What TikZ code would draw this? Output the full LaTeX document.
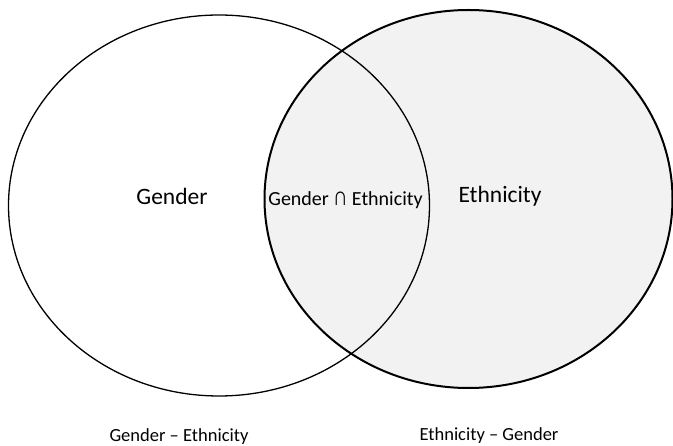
\documentclass[tikz,border=0pt]{standalone}
\usepackage{fontspec}
\usepackage{graphicx}
\setmainfont{Carlito}
\definecolor{lightfill}{HTML}{F2F2F2}
\tikzset{
  setline/.style={draw=black},
  lbl/.style={anchor=base, inner sep=0pt, text=black}
}
\newcommand{\capsym}{\scalebox{1}[1.3]{∩}}
\begin{document}
\begin{tikzpicture}[x=1pt,y=-1pt]
\useasboundingbox (0,0) rectangle (673,446);
% right set (Ethnicity), filled
\path[setline, fill=lightfill, line width=2pt] (468.5,199) ellipse [x radius=204, y radius=189];
% left set (Gender)
\path[setline, line width=1.3pt] (219,205.5) ellipse [x radius=210.5, y radius=190.5];
\node[lbl, font=\fontsize{23.5}{26}\selectfont] (g) at (172,205) {Gender};
\node[lbl, font=\fontsize{20}{22}\selectfont] (ge) at (345.5,206) {Gender \capsym{} Ethnicity};
\node[lbl, font=\fontsize{23.5}{26}\selectfont] (e) at (500,203) {Ethnicity};
\node[lbl, font=\fontsize{18.5}{20}\selectfont] (gme) at (179,442) {Gender – Ethnicity};
\node[lbl, font=\fontsize{18.5}{20}\selectfont] (emg) at (489,441) {Ethnicity – Gender};
\end{tikzpicture}
\end{document}
